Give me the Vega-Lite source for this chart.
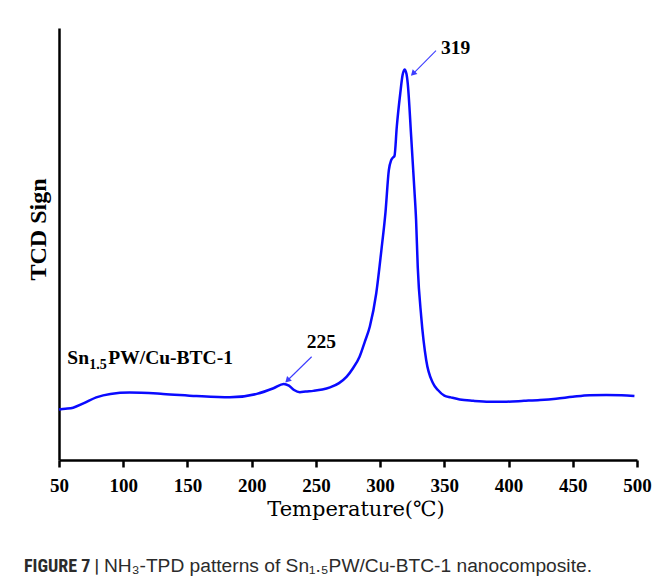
{
  "$schema": "https://vega.github.io/schema/vega-lite/v6.json",
  "width": 578,
  "height": 432,
  "autosize": {"type": "none"},
  "padding": {"left": 59, "top": 28, "right": 20, "bottom": 121},
  "background": "white",
  "datasets": {
    "curve": [
      {"T": 50, "v": 11.7}, {"T": 55, "v": 11.85}, {"T": 61, "v": 12.1}, {"T": 69, "v": 13.1},
      {"T": 79, "v": 14.5}, {"T": 90, "v": 15.3}, {"T": 105, "v": 15.6}, {"T": 131, "v": 15.3},
      {"T": 157, "v": 14.8}, {"T": 183, "v": 14.5}, {"T": 204, "v": 15.3}, {"T": 217, "v": 16.6},
      {"T": 225, "v": 17.6}, {"T": 229, "v": 17.2}, {"T": 233, "v": 16.2}, {"T": 237.5, "v": 15.7},
      {"T": 242, "v": 15.85}, {"T": 248, "v": 16.0}, {"T": 255, "v": 16.3}, {"T": 261, "v": 16.8},
      {"T": 268, "v": 17.8}, {"T": 274, "v": 19.3}, {"T": 279, "v": 21.3}, {"T": 284, "v": 23.9},
      {"T": 288, "v": 27.3}, {"T": 292, "v": 30.9}, {"T": 297, "v": 38.6}, {"T": 301, "v": 48.6},
      {"T": 304.2, "v": 57.4}, {"T": 306.8, "v": 67.1}, {"T": 308.6, "v": 69.4}, {"T": 310, "v": 70.0},
      {"T": 311.2, "v": 70.4}, {"T": 313, "v": 77.2}, {"T": 315.7, "v": 84.9}, {"T": 317.5, "v": 89.1},
      {"T": 319, "v": 90.4}, {"T": 320.5, "v": 89.4}, {"T": 321.5, "v": 87.2}, {"T": 324.2, "v": 74.8},
      {"T": 326.7, "v": 62.5}, {"T": 328, "v": 55.6}, {"T": 329.3, "v": 44.7}, {"T": 332, "v": 33.2},
      {"T": 335.9, "v": 23.1}, {"T": 341.1, "v": 17.8}, {"T": 345, "v": 16.2}, {"T": 350, "v": 14.9},
      {"T": 355, "v": 14.5}, {"T": 362, "v": 14.0}, {"T": 372.5, "v": 13.7}, {"T": 385, "v": 13.5},
      {"T": 398.5, "v": 13.5}, {"T": 412, "v": 13.7}, {"T": 424.5, "v": 13.9}, {"T": 437, "v": 14.2},
      {"T": 450, "v": 14.65}, {"T": 463, "v": 15.0}, {"T": 476, "v": 15.05}, {"T": 488, "v": 15.0},
      {"T": 498, "v": 14.8}
    ],
    "labels": [
      {"T": 347.4, "v": 94.0, "text": "319"},
      {"T": 242.9, "v": 25.86, "text": "225"},
      {"T": 56.5, "v": 22.15, "text": "Sn"},
      {"T": 88.4, "v": 22.15, "text": "PW/Cu-BTC-1"}
    ],
    "subs": [
      {"T": 73.6, "v": 21.0, "text": "1.5"}
    ],
    "arrows": [
      {"T": 343.5, "v": 94.75, "T2": 325.6, "v2": 89.4},
      {"T": 246.7, "v": 23.9, "T2": 227.8, "v2": 18.4}
    ]
  },
  "title": {
    "text": "FIGURE 7 |",
    "subtitle": "\u200b\u00a0\u00a0\u00a0\u00a0\u00a0\u00a0\u00a0\u00a0\u00a0\u00a0\u00a0\u00a0\u00a0\u00a0\u00a0NH\u2083-TPD patterns of Sn\u2081.\u2085PW/Cu-BTC-1 nanocomposite.",
    "orient": "bottom",
    "anchor": "start",
    "frame": "group",
    "dx": -35,
    "offset": 39,
    "font": "Liberation Sans Narrow, Roboto Condensed, Liberation Sans",
    "fontSize": 18,
    "fontWeight": "bold",
    "color": "#2b2b2b",
    "subtitleFont": "Liberation Sans",
    "subtitleFontSize": 19.2,
    "subtitleFontWeight": "normal",
    "subtitleColor": "#2b2b2b",
    "subtitlePadding": -19
  },
  "layer": [
    {
      "data": {"name": "curve"},
      "mark": {"type": "line", "interpolate": "monotone", "color": "#0a0aff", "strokeWidth": 2.5},
      "encoding": {
        "x": {
          "field": "T", "type": "quantitative",
          "scale": {"domain": [50, 500], "nice": false, "zero": false},
          "axis": {
            "title": "Temperature(\u2103)",
            "values": [50, 100, 150, 200, 250, 300, 350, 400, 450, 500],
            "grid": false,
            "domainColor": "black", "domainWidth": 2.5,
            "tickColor": "black", "tickWidth": 2.5, "tickSize": 7,
            "labelFont": "Liberation Serif", "labelFontSize": 19, "labelFontWeight": "bold",
            "labelColor": "black", "labelPadding": 9, "labelFlush": false, "labelOverlap": false,
            "titleFont": "DejaVu Serif", "titleFontSize": 21, "titleFontWeight": "normal",
            "titleColor": "black", "titleX": 296.5, "titleY": 55,
            "titleBaseline": "alphabetic", "titleAlign": "center"
          }
        },
        "y": {
          "field": "v", "type": "quantitative",
          "scale": {"domain": [0, 100], "nice": false, "zero": false},
          "axis": {
            "title": "TCD Sign",
            "ticks": false, "labels": false, "grid": false,
            "domainColor": "black", "domainWidth": 2.5,
            "titleFont": "Liberation Serif", "titleFontSize": 24, "titleFontWeight": "bold",
            "titleColor": "black", "titleX": -14, "titleY": 201, "titleAngle": -90,
            "titleBaseline": "alphabetic", "titleAlign": "center"
          }
        }
      }
    },
    {
      "data": {"name": "arrows"},
      "mark": {"type": "rule", "color": "#3c3cff", "strokeWidth": 1.1},
      "encoding": {
        "x": {"field": "T", "type": "quantitative"},
        "y": {"field": "v", "type": "quantitative"},
        "x2": {"field": "T2"},
        "y2": {"field": "v2"}
      }
    },
    {
      "data": {"name": "arrows"},
      "mark": {"type": "point", "shape": "triangle-up", "filled": true, "color": "#3c3cff", "opacity": 1, "size": 45, "angle": 225},
      "encoding": {
        "x": {"field": "T2", "type": "quantitative"},
        "y": {"field": "v2", "type": "quantitative"}
      }
    },
    {
      "data": {"name": "labels"},
      "mark": {"type": "text", "align": "left", "baseline": "alphabetic", "font": "Liberation Serif", "fontSize": 19.5, "fontWeight": "bold", "color": "black"},
      "encoding": {
        "x": {"field": "T", "type": "quantitative"},
        "y": {"field": "v", "type": "quantitative"},
        "text": {"field": "text"}
      }
    },
    {
      "data": {"name": "subs"},
      "mark": {"type": "text", "align": "left", "baseline": "alphabetic", "font": "Liberation Serif", "fontSize": 14, "fontWeight": "bold", "color": "black"},
      "encoding": {
        "x": {"field": "T", "type": "quantitative"},
        "y": {"field": "v", "type": "quantitative"},
        "text": {"field": "text"}
      }
    }
  ],
  "config": {
    "view": {"stroke": null},
    "axis": {"grid": false}
  }
}
